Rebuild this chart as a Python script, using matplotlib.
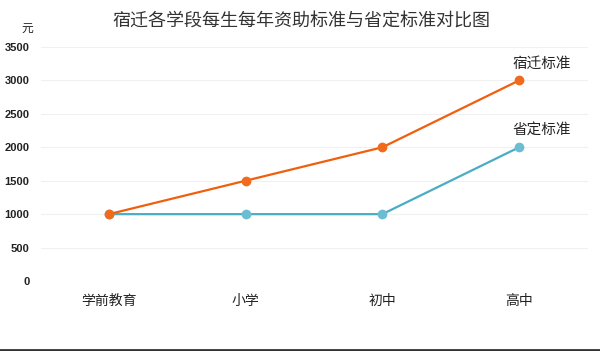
import matplotlib.pyplot as plt

plt.rcParams['font.family'] = ['Noto Sans CJK SC', 'DejaVu Sans']

# data
categories = ["学前教育", "小学", "初中", "高中"]
suqian = [1000, 1500, 2000, 3000]
province = [1000, 1000, 1000, 2000]
yticks = [0, 500, 1000, 1500, 2000, 2500, 3000, 3500]

W, H = 600, 351
fig = plt.figure(figsize=(W / 100, H / 100), dpi=100)
ax = fig.add_axes([40.5 / W, (H - 281) / H, (587.5 - 40.5) / W, (281 - 47) / H])

x = range(len(categories))
ax.plot(x, province, color='#4bacc6', lw=1.6, marker='o', ms=6,
        mfc='#6cbdd2', mec='#6cbdd2', zorder=3)
ax.plot(x, suqian, color='#f0600c', lw=1.6, marker='o', ms=6,
        mfc='#f26a1b', mec='#f26a1b', zorder=4)

ax.set_xlim(-0.5, len(categories) - 0.5)
ax.set_ylim(0, 3500)
ax.set_yticks(yticks)
ax.set_yticklabels([str(v) for v in yticks], fontsize=8, color='#222222',
                   family=['Liberation Sans', 'DejaVu Sans'], weight='bold')
ax.set_xticks(list(x))
ax.set_xticklabels(categories, fontsize=10, color='#222222')
ax.tick_params(length=0)
ax.tick_params(axis='y', pad=8)
ax.tick_params(axis='x', pad=9)
ax.grid(axis='y', color='#f0f0f0', lw=0.8)
ax.set_axisbelow(True)
for s in ax.spines.values():
    s.set_visible(False)

# end-of-line labels
ax.annotate("宿迁标准", (3, suqian[-1]), xytext=(23, 17), textcoords='offset pixels',
            ha='center', va='center', fontsize=10.5, color='#222222')
ax.annotate("省定标准", (3, province[-1]), xytext=(23, 17), textcoords='offset pixels',
            ha='center', va='center', fontsize=10.5, color='#222222')

fig.text(301 / W, 1 - 22 / H, "宿迁各学段每生每年资助标准与省定标准对比图",
         ha='center', va='center', fontsize=13, color='#333333')
fig.text(27 / W, 1 - 28 / H, "元", ha='center', va='center', fontsize=8.5, color='#222222')

# bottom edge line like the screenshot
fig.add_artist(plt.Line2D([0, 1], [1.5 / H, 1.5 / H], color='#333333', lw=2))

fig.savefig("out.png", dpi=100)
